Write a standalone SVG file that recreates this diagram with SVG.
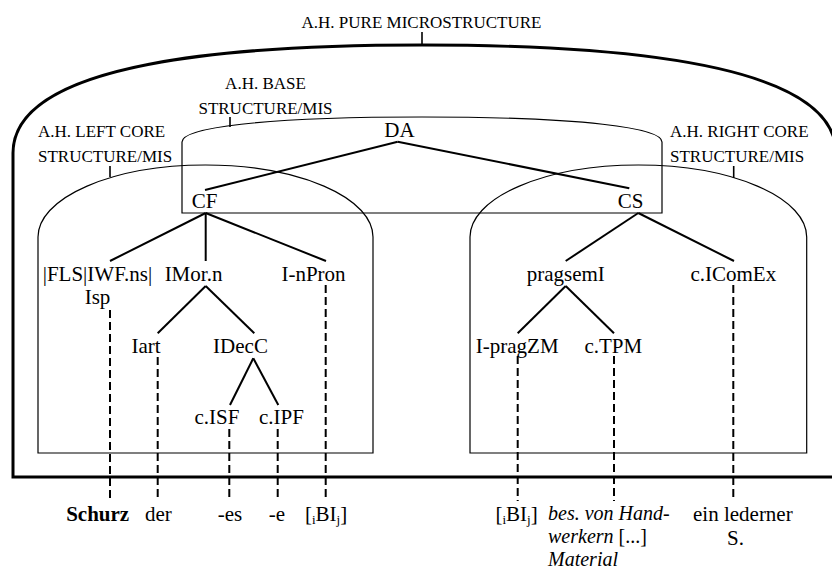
<svg xmlns="http://www.w3.org/2000/svg" width="832" height="569" viewBox="0 0 832 569">
<style>
text{font-family:"Liberation Serif","Times New Roman",serif;fill:#000}
.lab{font-size:17px}
.nd{font-size:21px;text-anchor:middle}
.wd{font-size:21px}
.gl{font-size:20px}
.mid{text-anchor:middle}
.box{fill:none;stroke:#000;stroke-width:1.2}
.outer{fill:none;stroke:#000;stroke-width:3}
.tick{stroke:#000;stroke-width:1.6}
.edge{stroke:#000;stroke-width:2;fill:none}
.dash{stroke:#000;stroke-width:2;stroke-dasharray:8 4;fill:none}
.sub{font-size:13px}
</style>
<rect width="832" height="569" fill="#fff"/>
<g id="pure-microstructure">
<path class="outer" d="M13,477 V153 C13,60 240,45 422,45 C604,45 836,60 836,153 V477 Z"/>
<line class="tick" x1="422" y1="32" x2="422" y2="45" stroke-width="2"/>
<text class="lab mid" x="421.5" y="28">A.H. PURE MICROSTRUCTURE</text>
</g>
<g id="base-structure">
<path class="box" d="M182,213 V142 C182,128 260,117 422,117 C584,117 662,128 662,142 V213 Z"/>
<line class="tick" x1="230" y1="117" x2="230" y2="127"/>
<text class="lab mid" x="265.5" y="89">A.H. BASE</text>
<text class="lab mid" x="265.5" y="114">STRUCTURE/MIS</text>
</g>
<g id="left-core">
<path class="box" d="M38,453 V237 A167.5,72 0 0 1 373,237 V453 Z"/>
<line class="tick" x1="110" y1="166" x2="110" y2="177"/>
<text class="lab" x="38" y="137">A.H. LEFT CORE</text>
<text class="lab" x="38" y="162">STRUCTURE/MIS</text>
</g>
<g id="right-core">
<path class="box" d="M470,453 V237 A168.3,72 0 0 1 806.7,237 V453 Z"/>
<line class="tick" x1="733.7" y1="166" x2="733.7" y2="178"/>
<text class="lab" x="670" y="137">A.H. RIGHT CORE</text>
<text class="lab" x="670" y="162">STRUCTURE/MIS</text>
</g>
<g id="connectors">
<line class="edge" x1="397.7" y1="141.7" x2="205" y2="190"/>
<line class="edge" x1="397.7" y1="141.7" x2="629.3" y2="188.3"/>
<line class="edge" x1="205.7" y1="213" x2="110" y2="261"/>
<line class="edge" x1="205.7" y1="213" x2="205.7" y2="261"/>
<line class="edge" x1="205.7" y1="213" x2="326" y2="261"/>
<line class="edge" x1="205.7" y1="286" x2="157.7" y2="333.3"/>
<line class="edge" x1="205.7" y1="286" x2="254.3" y2="333.3"/>
<line class="edge" x1="253.3" y1="358.3" x2="230" y2="405"/>
<line class="edge" x1="253.3" y1="358.3" x2="278.3" y2="405"/>
<line class="edge" x1="638.3" y1="213" x2="565.7" y2="261"/>
<line class="edge" x1="638.3" y1="213" x2="734" y2="261"/>
<line class="edge" x1="565.7" y1="286" x2="517.7" y2="333.3"/>
<line class="edge" x1="565.7" y1="286" x2="614" y2="333.3"/>
<line class="dash" x1="110" y1="310" x2="110" y2="501"/>
<line class="dash" x1="157.7" y1="357" x2="157.7" y2="501"/>
<line class="dash" x1="229.3" y1="429" x2="229.3" y2="501"/>
<line class="dash" x1="277.7" y1="429" x2="277.7" y2="501"/>
<line class="dash" x1="325.7" y1="285" x2="325.7" y2="501"/>
<line class="dash" x1="517.7" y1="356" x2="517.7" y2="501"/>
<line class="dash" x1="614" y1="356" x2="614" y2="501"/>
<line class="dash" x1="733.3" y1="285" x2="733.3" y2="501"/>
</g>
<g id="node-DA"><text class="nd" x="399.5" y="137">DA</text></g>
<g id="node-CF"><text class="nd" x="204.5" y="208">CF</text></g>
<g id="node-CS"><text class="nd" x="630.5" y="208">CS</text></g>
<g id="node-FLS"><text class="nd" x="97.5" y="281">|FLS|IWF.ns|</text><text class="nd" x="97.5" y="304">Isp</text></g>
<g id="node-IMor"><text class="nd" x="193.5" y="281">IMor.n</text></g>
<g id="node-InPron"><text class="nd" x="313.5" y="281">I-nPron</text></g>
<g id="node-Iart"><text class="nd" x="146" y="353">Iart</text></g>
<g id="node-IDecC"><text class="nd" x="240.5" y="353">IDecC</text></g>
<g id="node-cISF"><text class="nd" x="217" y="424">c.ISF</text></g>
<g id="node-cIPF"><text class="nd" x="281.5" y="424">c.IPF</text></g>
<g id="node-pragsemI"><text class="nd" x="565.8" y="281">pragsemI</text></g>
<g id="node-cIComEx"><text class="nd" x="733.3" y="281">c.IComEx</text></g>
<g id="node-IpragZM"><text class="nd" x="517.2" y="353">I-pragZM</text></g>
<g id="node-cTPM"><text class="nd" x="613.3" y="353">c.TPM</text></g>
<g id="words">
<text class="wd mid" x="97.7" y="521" font-weight="bold">Schurz</text>
<text class="wd mid" x="158.3" y="521">der</text>
<text class="wd mid" x="230" y="521">-es</text>
<text class="wd mid" x="277" y="521">-e</text>
<text class="wd mid" x="326" y="521">[<tspan class="sub" dy="3">i</tspan><tspan dy="-3">BI</tspan><tspan class="sub" dy="3">j</tspan><tspan dy="-3">]</tspan></text>
<text class="wd mid" x="516.5" y="521">[<tspan class="sub" dy="3">i</tspan><tspan dy="-3">BI</tspan><tspan class="sub" dy="3">j</tspan><tspan dy="-3">]</tspan></text>
<text class="gl" x="548" y="520" font-style="italic">bes. von Hand-</text>
<text class="gl" x="548" y="543"><tspan font-style="italic">werkern</tspan> [...]</text>
<text class="gl" x="548" y="566" font-style="italic">Material</text>
<text class="wd" x="693" y="521">ein lederner</text>
<text class="wd" x="727" y="545">S.</text>
</g>
</svg>
